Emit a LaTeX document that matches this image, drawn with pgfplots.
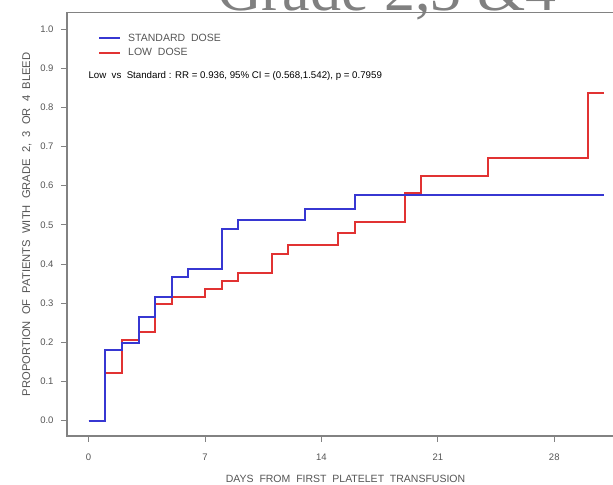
\documentclass[border=0pt]{standalone}
\usepackage{pgfplots}
\pgfplotsset{compat=1.18}
\usepackage{fontspec}
\setmainfont{Liberation Sans}
\newfontfamily\titlefont{Liberation Serif}
\definecolor{axgray}{RGB}{130,130,130}
\definecolor{txtgray}{RGB}{85,85,85}
\definecolor{stdblue}{RGB}{55,55,210}
\definecolor{lowred}{RGB}{225,50,50}
\begin{document}
\begin{tikzpicture}
\begin{axis}[
  name=ax,
  x=16.63pt, y=391.7pt,
  xmin=-1.30, xmax=32.2, ymin=-0.039, ymax=1.0416,
  axis line style={axgray, line width=1.3pt},
  tick style={axgray, line width=0.9pt},
  major tick length=6pt,
  tick align=outside,
  xtick pos=lower, ytick pos=left,
  xtick={0,7,14,21,28},
  ytick={0,0.1,0.2,0.3,0.4,0.5,0.6,0.7,0.8,0.9,1.0},
  /pgf/number format/assume math mode=true,
  ticklabel style={font=\fontsize{9.5}{10}\selectfont, text=txtgray},
  x tick label style={yshift=-8pt},
  y tick label style={xshift=-4pt, /pgf/number format/fixed, /pgf/number format/fixed zerofill, /pgf/number format/precision=1},
  xlabel={DAYS\ \ FROM\ \ FIRST\ \ PLATELET\ \ TRANSFUSION},
  ylabel={PROPORTION\ \ OF\ \ PATIENTS\ \ WITH\ \ GRADE\ \ 2,\ \ 3\ \ OR\ \ 4\ \ BLEED},
  label style={font=\fontsize{10.5}{11}\selectfont, text=txtgray},
  xlabel style={at={(rel axis cs:0.5,0)}, anchor=center, yshift=-43pt},
  ylabel style={at={(rel axis cs:0,0.5)}, anchor=center, yshift=40pt, font=\fontsize{11.2}{12}\selectfont},
  legend style={draw=none, fill=none, at={(rel axis cs:0,1)}, anchor=north west,
    xshift=31pt, yshift=-18pt, row sep=0pt, inner sep=0pt,
    font=\fontsize{10.5}{11}\selectfont, text=txtgray,
    nodes={inner sep=0pt, minimum height=14.6pt}},
  legend cell align=left,
  legend image code/.code={\draw[#1] (0pt,0pt) -- (21pt,0pt); \path (28pt,0pt);},
  reverse legend,
]
\addplot[const plot, lowred, line width=2pt] coordinates {
  (0,0) (1,0.121) (2,0.206) (3,0.226) (4,0.298) (5,0.316) (7,0.335) (8,0.357)
  (9,0.376) (11,0.425) (12,0.449) (15,0.478) (16,0.506) (19,0.582) (20,0.624)
  (24,0.671) (30,0.836) (31,0.836)};
\addlegendentry{LOW\ \ DOSE}
\addplot[const plot, stdblue, line width=2pt] coordinates {
  (0,0) (1,0.180) (2,0.198) (3,0.264) (4,0.316) (5,0.368) (6,0.387) (8,0.489)
  (9,0.512) (13,0.540) (16,0.575) (31,0.575)};
\addlegendentry{STANDARD\ \ DOSE}
\end{axis}
\node[anchor=base west, inner sep=0pt, font=\fontsize{9.7}{10}\selectfont]
  at ([shift={(21.3pt,-66.3pt)}]ax.north west)
  {Low\ \ vs\ \ Standard : RR = 0.936, 95\% CI = (0.568,1.542), p = 0.7959};
\node[anchor=base west, inner sep=0pt, text=gray, font=\titlefont\fontsize{62}{62}\selectfont]
  at ([shift={(150pt,1.7pt)}]ax.north west) {Grade 2,3 \&4};
\pgfresetboundingbox
\path[use as bounding box] ([shift={(-67pt,-49pt)}]ax.south west) rectangle ([shift={(546pt,12.7pt)}]ax.north west);
\end{tikzpicture}
\end{document}
